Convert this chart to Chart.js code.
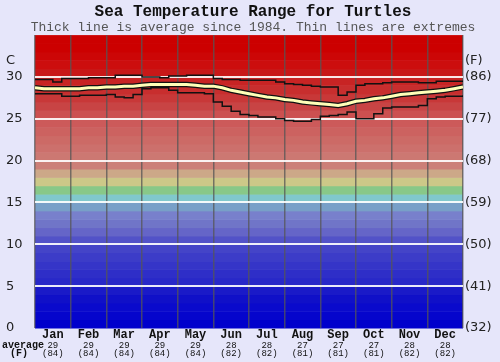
<!DOCTYPE html>
<html>
<head>
<meta charset="utf-8">
<script src="https://cdn.jsdelivr.net/npm/chart.js@4/dist/chart.umd.min.js"></script>
<style>
  body { margin: 0; background: #e6e6fa; }
</style>
</head>
<body>
<canvas id="chart" width="500" height="362"></canvas>
<script>
// month labels and monthly average readouts
const months = ['Jan', 'Feb', 'Mar', 'Apr', 'May', 'Jun', 'Jul', 'Aug', 'Sep', 'Oct', 'Nov', 'Dec'];
const avgC = [29, 29, 29, 29, 29, 28, 28, 27, 27, 27, 28, 28];
const avgF = [84, 84, 84, 84, 84, 82, 82, 81, 81, 81, 82, 82];

// y tick labels
const celsiusTicks = [0, 5, 10, 15, 20, 25, 30];
const fahrenheitTicks = [32, 41, 50, 59, 68, 77, 86];

// series, 4 readings per month (x = month position 0..12)
const avgTemp = [28.7, 28.6, 28.6, 28.6, 28.6, 28.6, 28.7, 28.7, 28.8, 28.8, 28.9, 28.9,
  29.0, 29.1, 29.1, 29.1, 29.1, 29.1, 29.0, 28.9, 28.9, 28.7, 28.4, 28.2,
  28.0, 27.8, 27.6, 27.5, 27.3, 27.2, 27.0, 26.9, 26.8, 26.7, 26.6, 26.8,
  27.1, 27.2, 27.4, 27.5, 27.7, 27.9, 28.0, 28.1, 28.2, 28.3, 28.4, 28.6, 28.8];
const maxTemp = [29.7, 29.7, 29.4, 29.8, 29.8, 29.8, 29.9, 29.9, 29.9, 30.2, 30.2, 30.2,
  30.0, 30.0, 29.9, 30.1, 30.1, 30.2, 30.2, 30.2, 29.8, 29.7, 29.7, 29.6,
  29.6, 29.6, 29.6, 29.4, 29.2, 29.1, 29.0, 28.9, 28.8, 28.8, 27.8, 28.2,
  29.0, 29.2, 29.2, 29.3, 29.4, 29.4, 29.4, 29.3, 29.3, 29.5, 29.5, 29.5, 29.5];
const minTemp = [28.0, 28.0, 28.0, 27.7, 27.7, 27.8, 27.8, 27.8, 27.9, 27.6, 27.5, 27.9,
  28.6, 28.7, 28.7, 28.4, 28.1, 28.1, 28.1, 28.0, 27.0, 26.5, 25.9, 25.5,
  25.4, 25.2, 25.2, 25.0, 24.8, 24.7, 24.7, 24.9, 25.3, 25.4, 25.5, 25.8,
  25.0, 25.0, 25.6, 26.3, 26.4, 26.4, 26.4, 26.6, 27.4, 27.6, 27.7, 27.7, 27.8];

// background colour for each 1 degree band, from 0-1 up to 34-35
const bandColors = ['#0000cc', '#0505cc', '#0a0acc', '#1010c8', '#1a1ac8', '#2828c8', '#2e2ec8',
  '#3535c8', '#3c3cc8', '#4444c8', '#5252c8', '#6565c8', '#7075c8', '#7880cc', '#78a0c8',
  '#80c8cc', '#88c888', '#ccc888', '#cca888', '#cc8078', '#cc7872', '#cc706c', '#cc6a66',
  '#cc6260', '#cc5a5a', '#cc5050', '#c84444', '#c83838', '#c82e2e', '#c82424', '#c81818',
  '#cc0e0e', '#cc0606', '#cc0000', '#cc0000'];

const toPoints = arr => arr.map((v, i) => ({ x: i / 4, y: v }));

const mono = '"Liberation Mono", "DejaVu Sans Mono", monospace';

const bandsPlugin = {
  id: 'bands',
  beforeDraw(chart) {
    const ctx = chart.ctx;
    const area = chart.chartArea;
    const y = chart.scales.y;
    ctx.save();
    ctx.fillStyle = '#e6e6fa';
    ctx.fillRect(0, 0, chart.width, chart.height);
    bandColors.forEach((c, t) => {
      const top = y.getPixelForValue(t + 1);
      const bottom = y.getPixelForValue(t);
      ctx.fillStyle = c;
      ctx.fillRect(area.left, top, area.right - area.left, bottom - top + 0.5);
    });
    ctx.restore();
  },
  afterDraw(chart) {
    const ctx = chart.ctx;
    ctx.save();
    ctx.fillStyle = '#111';
    ctx.font = 'bold 10px ' + mono;
    ctx.textBaseline = 'middle';
    ctx.textAlign = 'left';
    ctx.fillText('average', 2, 345);
    ctx.textAlign = 'center';
    ctx.fillText('(F)', 19, 353);
    ctx.restore();
  }
};

// one row of labels under the plot
function labelRow(labels, weight, height, font) {
  return {
    type: 'category',
    labels: labels,
    position: 'bottom',
    offset: true,
    weight: weight,
    border: { display: false },
    grid: { display: false, drawTicks: false },
    ticks: { color: '#111', padding: 0, maxRotation: 0, autoSkip: false, font: font },
    afterFit(scale) { scale.height = height; }
  };
}

new Chart(document.getElementById('chart'), {
  type: 'line',
  data: {
    datasets: [
      { data: toPoints(avgTemp), borderColor: '#ffffb8', borderWidth: 3, order: 0 },
      { data: toPoints(avgTemp), borderColor: '#111', borderWidth: 5.5, order: 1 },
      { data: toPoints(maxTemp), borderColor: '#111', borderWidth: 1.5, stepped: true, order: 2 },
      { data: toPoints(minTemp), borderColor: '#111', borderWidth: 1.5, stepped: true, order: 2 }
    ]
  },
  options: {
    responsive: false,
    animation: false,
    layout: { padding: { left: 6 } },
    elements: { point: { radius: 0 }, line: { tension: 0 } },
    datasets: { line: { xAxisID: 'xd', yAxisID: 'y' } },
    plugins: {
      legend: { display: false },
      tooltip: { enabled: false },
      title: {
        display: true,
        text: 'Sea Temperature Range for Turtles',
        color: '#111',
        font: { family: mono, size: 16, weight: 'bold', lineHeight: 1.05 },
        padding: { top: 4, bottom: 0 }
      },
      subtitle: {
        display: true,
        text: 'Thick line is average since 1984. Thin lines are extremes',
        color: '#555',
        font: { family: mono, size: 13, lineHeight: 1.1 },
        padding: { top: 0, bottom: 0 }
      }
    },
    scales: {
      xd: { type: 'linear', min: 0, max: 12, display: false },
      x: {
        type: 'category',
        labels: months,
        position: 'bottom',
        offset: true,
        weight: 0,
        border: { display: false },
        grid: { offset: true, color: 'rgba(85,85,85,0.75)', lineWidth: 1.5, drawTicks: false },
        ticks: { color: '#111', padding: 1, font: { family: mono, size: 12, weight: 'bold', lineHeight: 1 } },
        afterFit(scale) { scale.height = 13; }
      },
      xc: labelRow(avgC.map(String), 1, 8, { family: mono, size: 9, lineHeight: 1 }),
      xf: labelRow(avgF.map(v => '(' + v + ')'), 2, 13, { family: mono, size: 9, lineHeight: 1 }),
      y: {
        type: 'linear',
        position: 'left',
        min: 0,
        max: 35,
        border: { display: false },
        afterBuildTicks(scale) {
          scale.ticks = celsiusTicks.map(v => ({ value: v })).concat([{ value: 32 }]);
        },
        grid: {
          drawTicks: false,
          color: c => (c.tick.value > 0 && c.tick.value < 32) ? 'rgba(255,255,255,0.9)' : 'rgba(0,0,0,0)',
          lineWidth: 2
        },
        ticks: {
          crossAlign: 'far',
          color: '#222',
          font: { family: '"DejaVu Sans", sans-serif', size: 13 },
          callback: v => v === 32 ? 'C' : String(v)
        },
        afterFit(scale) { scale.width = 29; }
      },
      y2: {
        type: 'linear',
        position: 'right',
        min: 0,
        max: 35,
        border: { display: false },
        afterBuildTicks(scale) {
          scale.ticks = celsiusTicks.map(v => ({ value: v })).concat([{ value: 32 }]);
        },
        grid: { display: false, drawTicks: false },
        ticks: {
          padding: 2,
          color: '#222',
          font: { family: '"DejaVu Sans", sans-serif', size: 13 },
          callback: v => v === 32 ? '(F)' : '(' + fahrenheitTicks[celsiusTicks.indexOf(v)] + ')'
        },
        afterFit(scale) { scale.width = 37; }
      }
    }
  },
  plugins: [bandsPlugin]
});
</script>
</body>
</html>
